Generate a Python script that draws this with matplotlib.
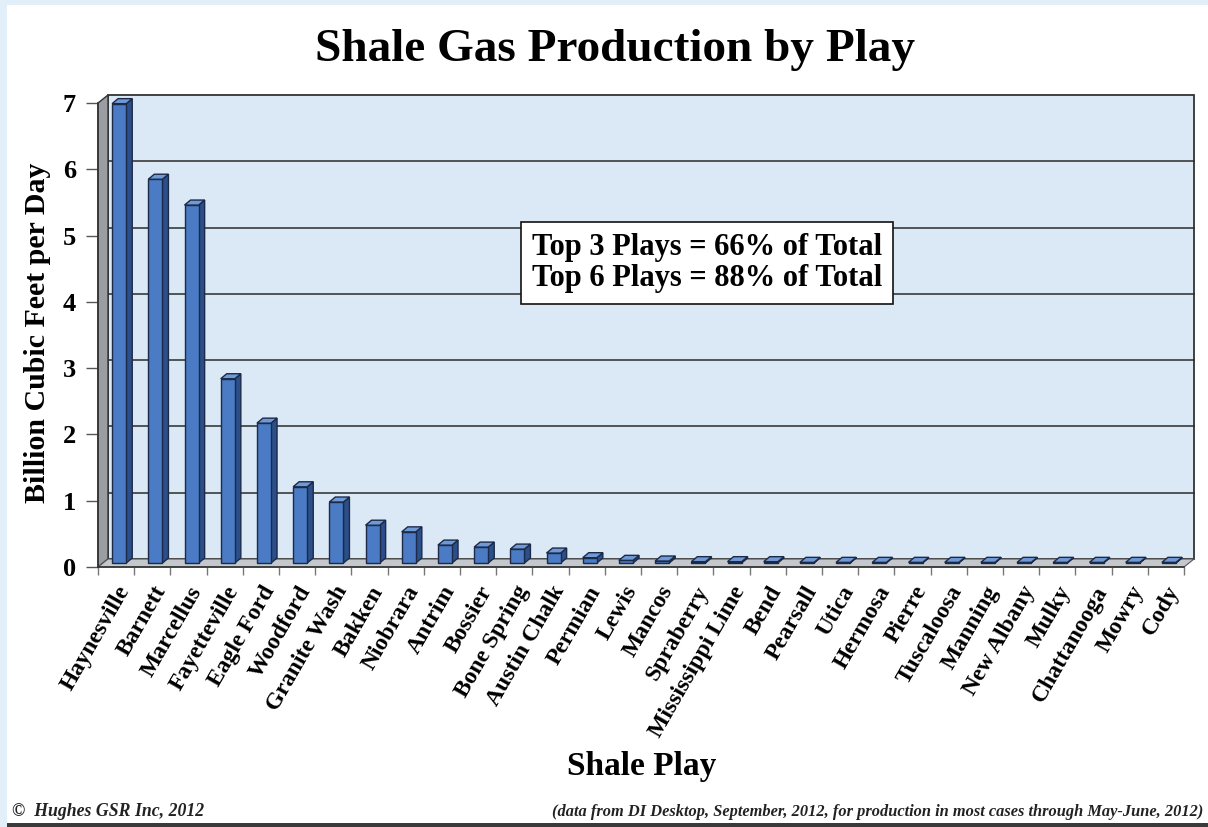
import matplotlib
matplotlib.use("Agg")
import matplotlib.pyplot as plt
from matplotlib.patches import Polygon, Rectangle

plt.rcParams['font.family'] = ['Liberation Serif', 'DejaVu Serif']

# Shale gas production by play (billion cubic feet per day)
plays = ["Haynesville", "Barnett", "Marcellus", "Fayetteville", "Eagle Ford",
         "Woodford", "Granite Wash", "Bakken", "Niobrara", "Antrim", "Bossier",
         "Bone Spring", "Austin Chalk", "Permian", "Lewis", "Mancos",
         "Spraberry", "Mississippi Lime", "Bend", "Pearsall", "Utica",
         "Hermosa", "Pierre", "Tuscaloosa", "Manning", "New Albany", "Mulky",
         "Chattanooga", "Mowry", "Cody"]
production = [6.93, 5.79, 5.40, 2.78, 2.11, 1.15, 0.92, 0.57, 0.47, 0.27,
              0.24, 0.21, 0.15, 0.08, 0.04, 0.03, 0.02, 0.02, 0.02, 0.01,
              0.01, 0.01, 0.01, 0.01, 0.01, 0.01, 0.01, 0.01, 0.01, 0.01]
y_ticks = [0, 1, 2, 3, 4, 5, 6, 7]

W, H = 1208, 827
fig = plt.figure(figsize=(W / 100, H / 100), dpi=100)
fig.patch.set_facecolor('white')

# page frame: pale strips on the left and top, dark rule at the bottom
fig.patches.append(Rectangle((0, 0), 7 / W, 1, transform=fig.transFigure,
                             facecolor='#e2eef8', edgecolor='none', zorder=0))
fig.patches.append(Rectangle((0, 1 - 5 / H), 1, 5 / H, transform=fig.transFigure,
                             facecolor='#e2eef8', edgecolor='none', zorder=0))
fig.patches.append(Rectangle((7 / W, 0), 1, 4 / H, transform=fig.transFigure,
                             facecolor='#3a3a3a', edgecolor='none', zorder=0))

n = len(plays)
ax = fig.add_axes([98 / W, (H - 567) / H, 1086 / W, 464 / H])
ax.set_xlim(0, n)
ax.set_ylim(0, 7)
ax.patch.set_visible(False)

# pixel sizes expressed in data units for the pseudo-3D depth
px_x = n / 1086.0
px_y = 7 / 464.0
dx, dy = 10 * px_x, 8 * px_y          # back wall offset
ymax = 7

# back wall
wall = Polygon([(dx, dy), (n + dx, dy), (n + dx, ymax + dy), (dx, ymax + dy)],
               closed=True, facecolor='#dbe8f6', edgecolor='#333333', lw=1.3,
               zorder=0, clip_on=False)
ax.add_patch(wall)
for t in y_ticks[1:-1]:
    ax.plot([dx, n + dx], [t + dy, t + dy], color='#2b2b2b', lw=1.1,
            zorder=0.5, clip_on=False)

# left side wall
side = Polygon([(0, 0), (0, ymax), (dx, ymax + dy), (dx, dy)], closed=True,
               facecolor='#9a9ea3', edgecolor='#333333', lw=1.0, zorder=1,
               clip_on=False)
ax.add_patch(side)

# floor
floor = Polygon([(0, 0), (n, 0), (n + dx, dy), (dx, dy)], closed=True,
                facecolor='#c4c7cb', edgecolor='#555555', lw=0.8, zorder=1,
                clip_on=False)
ax.add_patch(floor)

# bars: front faces from the data, then side and top faces
bar_left = 0.39
bar_w = 0.39
base = 4 * px_y
bdx, bdy = 6 * px_x, 5 * px_y
xs = [i + bar_left for i in range(n)]
ax.bar(xs, production, width=bar_w, bottom=base, align='edge',
       color='#4a7bc4', edgecolor='#1c2a48', lw=1.0, zorder=3, clip_on=False)
for x0, v in zip(xs, production):
    x1 = x0 + bar_w
    top = base + v
    ax.add_patch(Polygon([(x1, base), (x1, top), (x1 + bdx, top + bdy),
                          (x1 + bdx, base + bdy)], closed=True,
                         facecolor='#2b4f8a', edgecolor='#1c2a48', lw=1.0,
                         zorder=2.9, clip_on=False))
    ax.add_patch(Polygon([(x0, top), (x1, top), (x1 + bdx, top + bdy),
                          (x0 + bdx, top + bdy)], closed=True,
                         facecolor='#6f9ad8', edgecolor='#1c2a48', lw=1.0,
                         zorder=3.1, clip_on=False))

# axes lines and ticks
for s in ('top', 'right'):
    ax.spines[s].set_visible(False)
for s in ('left', 'bottom'):
    ax.spines[s].set_color('#333333')
    ax.spines[s].set_linewidth(1.2)
    ax.spines[s].set_zorder(4)

ax.set_yticks(y_ticks)
ax.set_yticklabels([str(t) for t in y_ticks], fontsize=19, fontweight='bold')
ax.tick_params(axis='y', length=9, width=1.0, color='#555555', pad=7)

ax.set_xticks([i + 0.5 for i in range(n)])
ax.set_xticklabels(plays, rotation=60, ha='right', rotation_mode='anchor',
                   fontsize=17, fontweight='bold')
ax.tick_params(axis='x', which='major', length=0, pad=11)
ax.set_xticks(range(n + 1), minor=True)
ax.tick_params(axis='x', which='minor', length=6, width=1.0, color='#777777')

# titles and labels
fig.text(615 / W, 1 - 50 / H, 'Shale Gas Production by Play', ha='center',
         va='center', fontsize=34, fontweight='bold')
fig.text(38 / W, 1 - 333 / H, 'Billion Cubic Feet per Day', ha='center',
         va='center', rotation=90, fontsize=21.5, fontweight='bold')
fig.text(642 / W, 1 - 766 / H, 'Shale Play', ha='center', va='center',
         fontsize=24, fontweight='bold')

# summary box
fig.text(707 / W, 1 - 263 / H,
         'Top 3 Plays = 66% of Total\nTop 6 Plays = 88% of Total',
         ha='center', va='center', fontsize=22, fontweight='bold',
         linespacing=1.1,
         bbox=dict(boxstyle='square,pad=0.35', facecolor='white',
                   edgecolor='#111111', lw=1.2))

# footers
fig.text(12 / W, 1 - 812 / H, '\u00a9  Hughes GSR Inc, 2012', ha='left',
         va='center', fontsize=12.8, fontstyle='italic', fontweight='bold',
         color='#222222')
fig.text(1203 / W, 1 - 812 / H,
         '(data from DI Desktop, September, 2012, for production in most '
         'cases through May-June, 2012)',
         ha='right', va='center', fontsize=11.8, fontstyle='italic',
         fontweight='bold', color='#222222')

fig.savefig('out.png', dpi=100)
